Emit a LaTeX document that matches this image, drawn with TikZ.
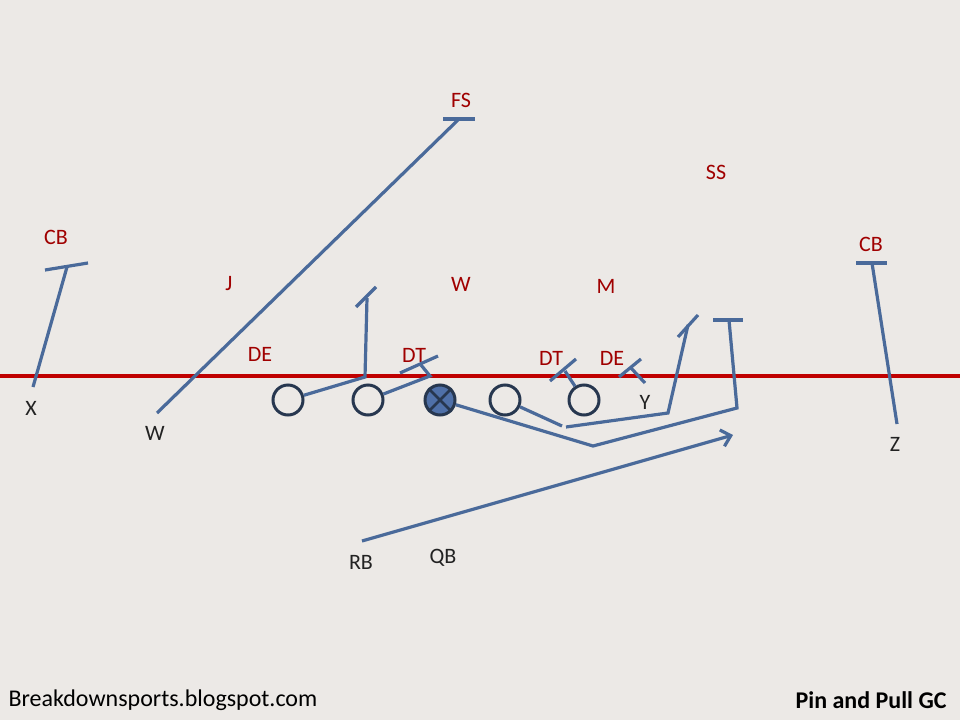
\documentclass[tikz,border=0pt]{standalone}
\usepackage{fontspec}
\setmainfont{Carlito}
\usetikzlibrary{arrows.meta}

\definecolor{fieldbg}{HTML}{ECE9E6}
\definecolor{routeblue}{HTML}{4A6A9A}
\definecolor{navy}{HTML}{27374F}
\definecolor{ctrblue}{HTML}{4F70A8}
\definecolor{losred}{HTML}{C00000}
\definecolor{defred}{HTML}{A00000}
\definecolor{offtext}{HTML}{222222}

\tikzset{
  player/.style={circle, draw=navy, line width=3pt, minimum size=30pt, inner sep=0pt},
  route/.style={routeblue, line width=3.2pt},
  defense/.style={text=defred, font=\fontsize{22}{26}\selectfont},
  offense/.style={text=offtext, font=\fontsize{22}{26}\selectfont},
  footer/.style={text=black, font=\fontsize{24}{28}\selectfont},
}

\begin{document}
\begin{tikzpicture}[x=1pt,y=-1pt]
        \fill[fieldbg] (0,0) rectangle (960,720);
        \useasboundingbox (0,0) rectangle (960,720);

        % line of scrimmage
        \draw[losred, line width=4.2pt] (0,376) -- (960,376);

        % defense
        \node[defense] (fs) at (461,100) {FS};
        \node[defense] (ss) at (716,172) {SS};
        \node[defense] (cbl) at (56,237) {CB};
        \node[defense] (cbr) at (871,244) {CB};
        \node[defense] (jack) at (229,284) {J};
        \node[defense] (will) at (461,284) {W};
        \node[defense] (mike) at (606,286) {M};
        \node[defense] (del) at (260,354) {DE};
        \node[defense] (dtl) at (414,355) {DT};
        \node[defense] (dtr) at (551,358) {DT};
        \node[defense] (der) at (612,358) {DE};

        % offensive line
        \node[player] (lt) at (288,400) {};
        \node[player] (lg) at (368,400) {};
        \node[player, fill=ctrblue] (ctr) at (440,400) {};
        \draw[navy, line width=2.6pt] (ctr.45) -- (ctr.225) (ctr.135) -- (ctr.315);
        \node[player] (rg) at (505,400) {};
        \node[player] (rt) at (584,400) {};

        % skill players
        \node[offense] (x) at (31,408) {X};
        \node[offense] (w) at (155,433) {W};
        \node[offense] (y) at (645,402) {Y};
        \node[offense] (z) at (895,444) {Z};
        \node[offense] (rb) at (361,562) {RB};
        \node[offense] (qb) at (443,558) {QB};

        % X on the corner
        \coordinate (x-go) at (33,387);
        \coordinate (x-blk) at (67,267);
        \draw[route] (x-go) -- (x-blk);
        \draw[route] (x-blk) ++(-22,3) -- ++(43,-7);

        % W on the free safety
        \coordinate (w-go) at (157,413);
        \coordinate (w-blk) at (459,119);
        \draw[route] (w-go) -- (w-blk);
        \draw[route] (w-blk) ++(-16,0) -- ++(32,0);

        % Z on the corner
        \coordinate (z-go) at (897,424);
        \coordinate (z-blk) at (872,263);
        \draw[route] (z-go) -- (z-blk);
        \draw[route] (z-blk) ++(-16,0) -- ++(31,0);

        % backside tackle climbs
        \coordinate (lt-kick) at (365,377);
        \coordinate (lt-blk) at (367,298);
        \draw[route] (lt) -- (lt-kick) -- (lt-blk);
        \draw[route] (lt-blk) ++(-11,9) -- ++(20,-20);

        % guard pins the DT
        \coordinate (lg-kick) at (430,376);
        \coordinate (lg-blk) at (421,365);
        \draw[route] (lg) -- (lg-kick) -- (lg-blk);
        \draw[route] (lg-blk) ++(-21,8) -- ++(38,-17);

        % center pulls
        \coordinate (ctr-dip) at (593,446);
        \coordinate (ctr-turn) at (737,408);
        \coordinate (ctr-blk) at (729,320);
        \draw[route] (ctr) -- (ctr-dip) -- (ctr-turn) -- (ctr-blk);
        \draw[route] (ctr-blk) ++(-16,0) -- ++(30,0);

        % guard pulls
        \coordinate (rg-dip) at (562,426);
        \coordinate (rg-go) at (566,427);
        \coordinate (rg-turn) at (668,413);
        \coordinate (rg-blk) at (688,325);
        \draw[route] (rg) -- (rg-dip);
        \draw[route] (rg-go) -- (rg-turn) -- (rg-blk);
        \draw[route] (rg-blk) ++(-10,12) -- ++(20,-22);

        % tackle pins the DT
        \coordinate (rt-blk) at (565,371);
        \draw[route] (rt) -- (rt-blk);
        \draw[route] (rt-blk) ++(-15,10) -- ++(26,-22);

        % Y pins the DE
        \coordinate (y-go) at (645,383);
        \coordinate (y-blk) at (631,368);
        \draw[route] (y-go) -- (y-blk);
        \draw[route] (y-blk) ++(-12,9) -- ++(22,-18);

        % RB path
        \coordinate (rb-go) at (362,541);
        \coordinate (rb-end) at (733,435);
        \draw[route, -{Straight Barb[length=9pt,width=17pt]}] (rb-go) -- (rb-end);

        % footer
        \node[footer, anchor=west] (site) at (5,700) {Breakdownsports.blogspot.com};
        \node[footer, anchor=east] (play) at (950,700) {\bfseries Pin and Pull GC};
\end{tikzpicture}
\end{document}
